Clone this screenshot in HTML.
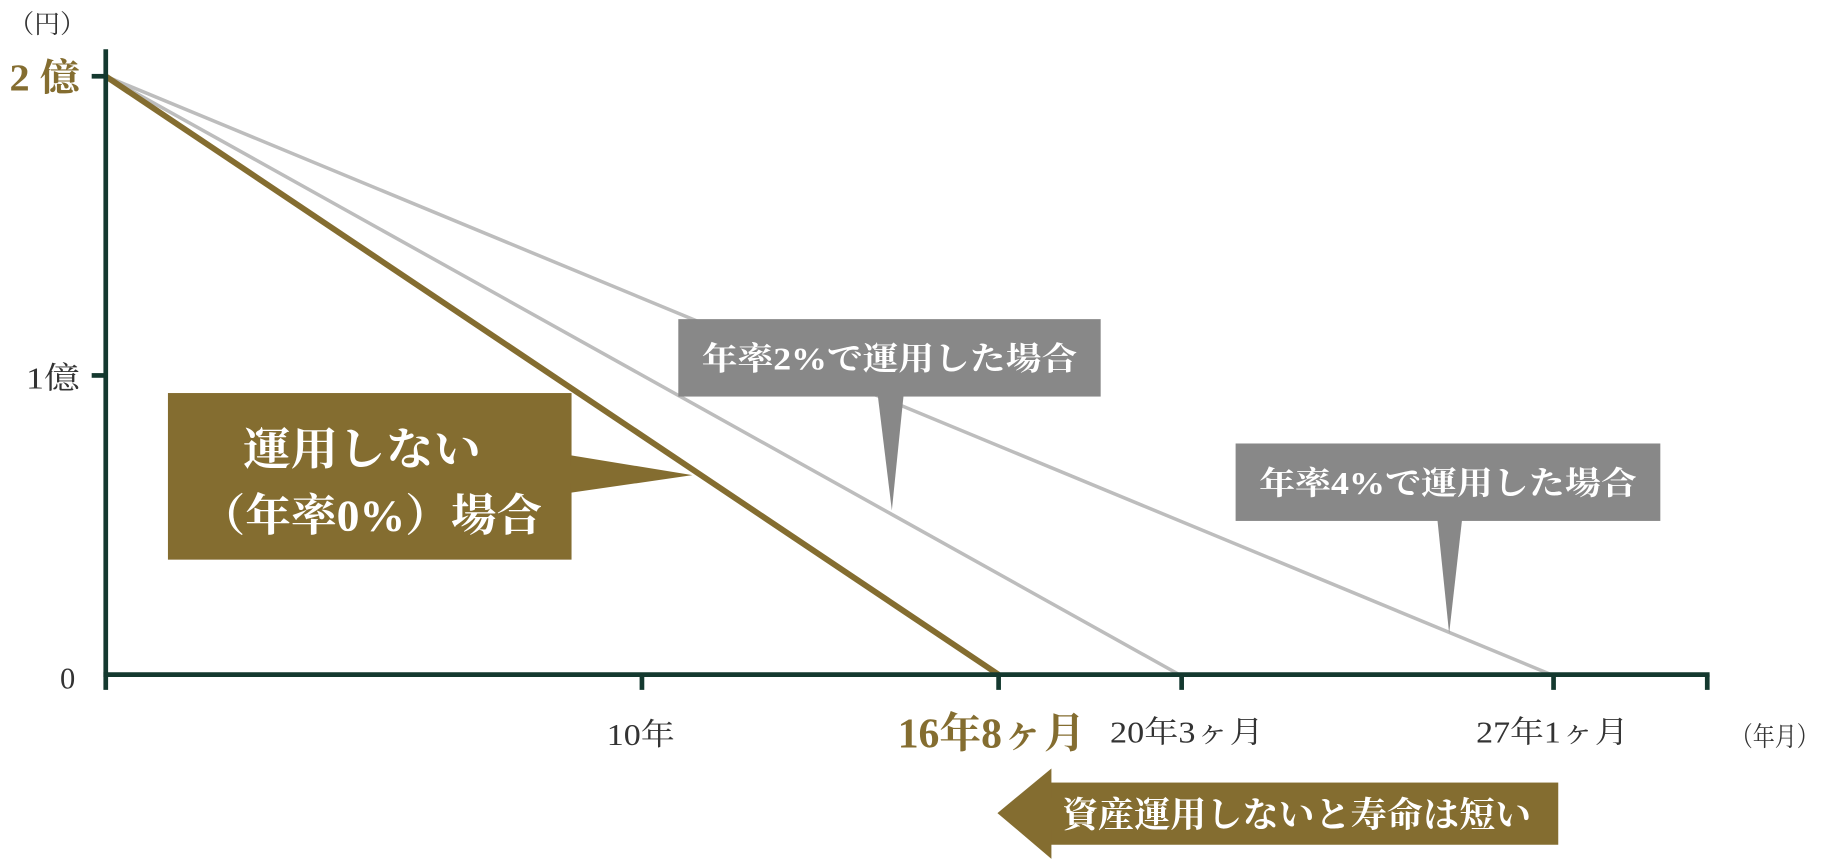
<!DOCTYPE html>
<html><head><meta charset="utf-8"><style>
html,body{margin:0;padding:0;background:#fff;}
svg{display:block;}
text{font-family:"Liberation Serif","Noto Serif CJK SC","Noto Serif CJK JP",serif;}
</style></head><body>
<svg width="1840" height="860" viewBox="0 0 1568 733" xmlns="http://www.w3.org/2000/svg">
<rect width="1568" height="733" fill="#fff"/>
<line x1="90" y1="65" x2="1322" y2="575" stroke="#bdbdbd" stroke-width="3"/>
<line x1="90" y1="65" x2="1005" y2="575" stroke="#bdbdbd" stroke-width="3"/>
<line x1="90" y1="65" x2="851" y2="575" stroke="#846d30" stroke-width="5"/>
<g stroke="#14392f" stroke-width="4">
<line x1="90" y1="42" x2="90" y2="588"/>
<line x1="88" y1="575" x2="1457" y2="575"/>
<line x1="78" y1="65" x2="90" y2="65"/>
<line x1="78" y1="320" x2="90" y2="320"/>
<line x1="547" y1="575" x2="547" y2="588"/>
<line x1="851" y1="575" x2="851" y2="588"/>
<line x1="1007" y1="575" x2="1007" y2="588"/>
<line x1="1324" y1="575" x2="1324" y2="588"/>
<line x1="1455" y1="575" x2="1455" y2="588"/>
</g>
<text x="40" y="28" font-size="22" fill="#333" text-anchor="middle">（円）</text>
<text x="8" y="77" font-size="32" font-weight="bold" fill="#846d30" textLength="60" lengthAdjust="spacingAndGlyphs">2 億</text>
<text x="22" y="331" font-size="26" fill="#333" textLength="46" lengthAdjust="spacingAndGlyphs">1億</text>
<text x="51" y="587" font-size="26" fill="#333">0</text>
<text x="517" y="635" font-size="26" fill="#333" textLength="58" lengthAdjust="spacingAndGlyphs">10年</text>
<text x="765" y="637" font-size="36" font-weight="bold" fill="#846d30" textLength="160" lengthAdjust="spacingAndGlyphs">16年8ヶ月</text>
<text x="946" y="633" font-size="26" fill="#333" textLength="131" lengthAdjust="spacingAndGlyphs">20年3ヶ月</text>
<text x="1258" y="633" font-size="26" fill="#333" textLength="130" lengthAdjust="spacingAndGlyphs">27年1ヶ月</text>
<text x="1475" y="636" font-size="23" fill="#333" textLength="75" lengthAdjust="spacingAndGlyphs">（年月）</text>
<rect x="578" y="272" width="360" height="66" fill="#888"/>
<polygon points="748,337 770,337 760,435" fill="#888"/>
<text x="598" y="315" font-size="27" font-weight="bold" fill="#fff" textLength="320" lengthAdjust="spacingAndGlyphs">年率2%で運用した場合</text>
<rect x="1053" y="378" width="362" height="66" fill="#888"/>
<polygon points="1225,443 1246,443 1235,540" fill="#888"/>
<text x="1073" y="421" font-size="27" font-weight="bold" fill="#fff" textLength="322" lengthAdjust="spacingAndGlyphs">年率4%で運用した場合</text>
<rect x="143" y="335" width="344" height="142" fill="#846d30"/>
<polygon points="486,388 486,420 590,405" fill="#846d30"/>
<text x="207" y="396" font-size="38" font-weight="bold" fill="#fff" textLength="203" lengthAdjust="spacingAndGlyphs">運用しない</text>
<text x="170" y="452" font-size="38" font-weight="bold" fill="#fff" textLength="292" lengthAdjust="spacingAndGlyphs">（年率0%）場合</text>
<rect x="894" y="667" width="434" height="53" fill="#846d30"/>
<polygon points="896,655 850,693 896,732" fill="#846d30"/>
<text x="905" y="705" font-size="30" font-weight="bold" fill="#fff" textLength="400" lengthAdjust="spacingAndGlyphs">資産運用しないと寿命は短い</text>
</svg>
</body></html>
